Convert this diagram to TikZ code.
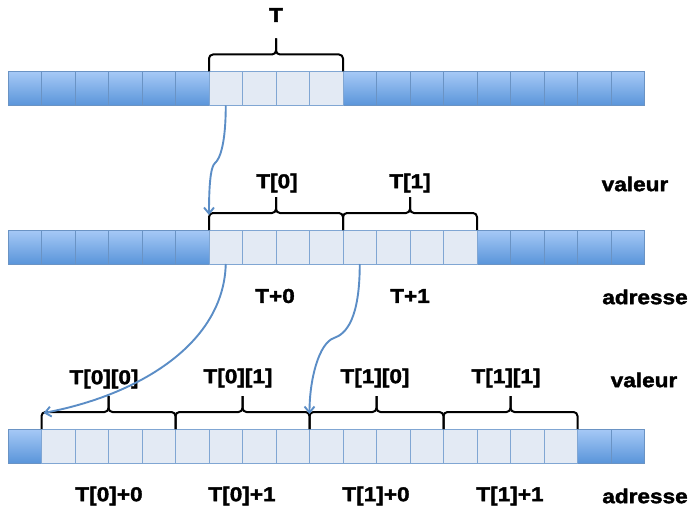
\documentclass[tikz,border=0pt]{standalone}
\usepackage{fontspec}
\newfontfamily\lblfont{Liberation Sans Bold}[FakeStretch=1.13, FakeBold=1.8]
\usetikzlibrary{arrows.meta,calc}
\definecolor{cellTop}{HTML}{A6C9F6}
\definecolor{cellBot}{HTML}{5A95DA}
\definecolor{cellEdge}{HTML}{6A93C4}
\definecolor{litFill}{HTML}{E3EAF4}
\definecolor{litEdge}{HTML}{80A6D3}
\definecolor{ptrBlue}{HTML}{5B8DC6}
\tikzset{
  cellbase/.style={minimum width=33.5pt, minimum height=34pt, inner sep=0pt, outer sep=0pt, line width=0.8pt},
  darkcell/.style={cellbase, draw=cellEdge, top color=cellTop, bottom color=cellBot},
  litcell/.style={cellbase, draw=litEdge, fill=litFill},
  lbl/.style={font=\lblfont\fontsize{20}{20}\selectfont, inner sep=0pt},
  bracepath/.style={draw=black, line width=2pt, rounded corners=4pt},
  ptr/.style={draw=ptrBlue, line width=1.9pt, -{Straight Barb[length=6pt,width=10pt]}}
}
% curly brace standing over the span from #1 (left top corner) to #2 (right top corner)
\newcommand\curlyover[2]{%
  \draw[bracepath] let \p1=(#1), \p2=(#2) in
    (\x1,\y1) -- (\x1,\y1+17pt) -- ({(\x1+\x2)/2},\y1+17pt) -- ({(\x1+\x2)/2},\y1+33pt);
  \draw[bracepath] let \p1=(#1), \p2=(#2) in
    (\x2,\y2) -- (\x2,\y2+17pt) -- ({(\x1+\x2)/2},\y2+17pt) -- ({(\x1+\x2)/2},\y2+33pt);
}
\begin{document}
\begin{tikzpicture}[x=1pt,y=-1pt]
\useasboundingbox (0,0) rectangle (690,508);

% memory row: whole block T
\foreach \i in {0,...,5,10,11,...,18}
  \node[darkcell] (a\i) at ({24.75+33.5*\i},88.5) {};
\foreach \i in {6,...,9}
  \node[litcell] (a\i) at ({24.75+33.5*\i},88.5) {};

% memory row: T[0], T[1]
\foreach \i in {0,...,5,14,15,...,18}
  \node[darkcell] (b\i) at ({24.75+33.5*\i},247) {};
\foreach \i in {6,...,13}
  \node[litcell] (b\i) at ({24.75+33.5*\i},247) {};

% memory row: T[i][j]
\foreach \i in {0,17,18}
  \node[darkcell] (c\i) at ({24.75+33.5*\i},446) {};
\foreach \i in {1,...,16}
  \node[litcell] (c\i) at ({24.75+33.5*\i},446) {};

% braces
\curlyover{a6.north west}{a9.north east}
\curlyover{b6.north west}{b9.north east}
\curlyover{b10.north west}{b13.north east}
\curlyover{c1.north west}{c4.north east}
\curlyover{c5.north west}{c8.north east}
\curlyover{c9.north west}{c12.north east}
\curlyover{c13.north west}{c16.north east}

% labels
\node[lbl] (lT) at (276,15) {T};
\node[lbl] (lT0) at (277,183) {T[0]};
\node[lbl] (lT1) at (410,183) {T[1]};
\node[lbl] (val1) at (635,184) {valeur};
\node[lbl] (ad0) at (275,296) {T+0};
\node[lbl] (ad1) at (410,296) {T+1};
\node[lbl] (adr1) at (645,297) {adresse};
\node[lbl] (lT00) at (104,379) {T[0][0]};
\node[lbl] (lT01) at (238,378) {T[0][1]};
\node[lbl] (lT10) at (375,378) {T[1][0]};
\node[lbl] (lT11) at (506,378) {T[1][1]};
\node[lbl] (val2) at (644,380) {valeur};
\node[lbl] (ad00) at (109,496) {T[0]+0};
\node[lbl] (ad01) at (242,496) {T[0]+1};
\node[lbl] (ad10) at (376,496) {T[1]+0};
\node[lbl] (ad11) at (510,496) {T[1]+1};
\node[lbl] (adr2) at (645,496) {adresse};

% pointer targets at the brace ends, and bends along the way
\coordinate (t0) at ($(b6.north west)+(0,-15)$);
\coordinate (t00) at ($(c1.north west)+(2,-16)$);
\coordinate (t10) at ($(c9.north west)+(0,-15)$);
\coordinate (k0) at (215,163);
\coordinate (k10) at (334,338);

% pointers
\draw[ptr] (a6.south) .. controls +(0,38) and +(5,-4) .. (k0)
  .. controls +(-5,4) and +(0,-25) .. (t0);
\draw[ptr] (b6.south) .. controls +(-2,80) and +(95,-18) .. (t00);
\draw[ptr] (b10.south) .. controls +(0,55) and +(12,-4) .. (k10)
  .. controls +(-15,5) and +(0,-35) .. (t10);
\end{tikzpicture}
\end{document}
